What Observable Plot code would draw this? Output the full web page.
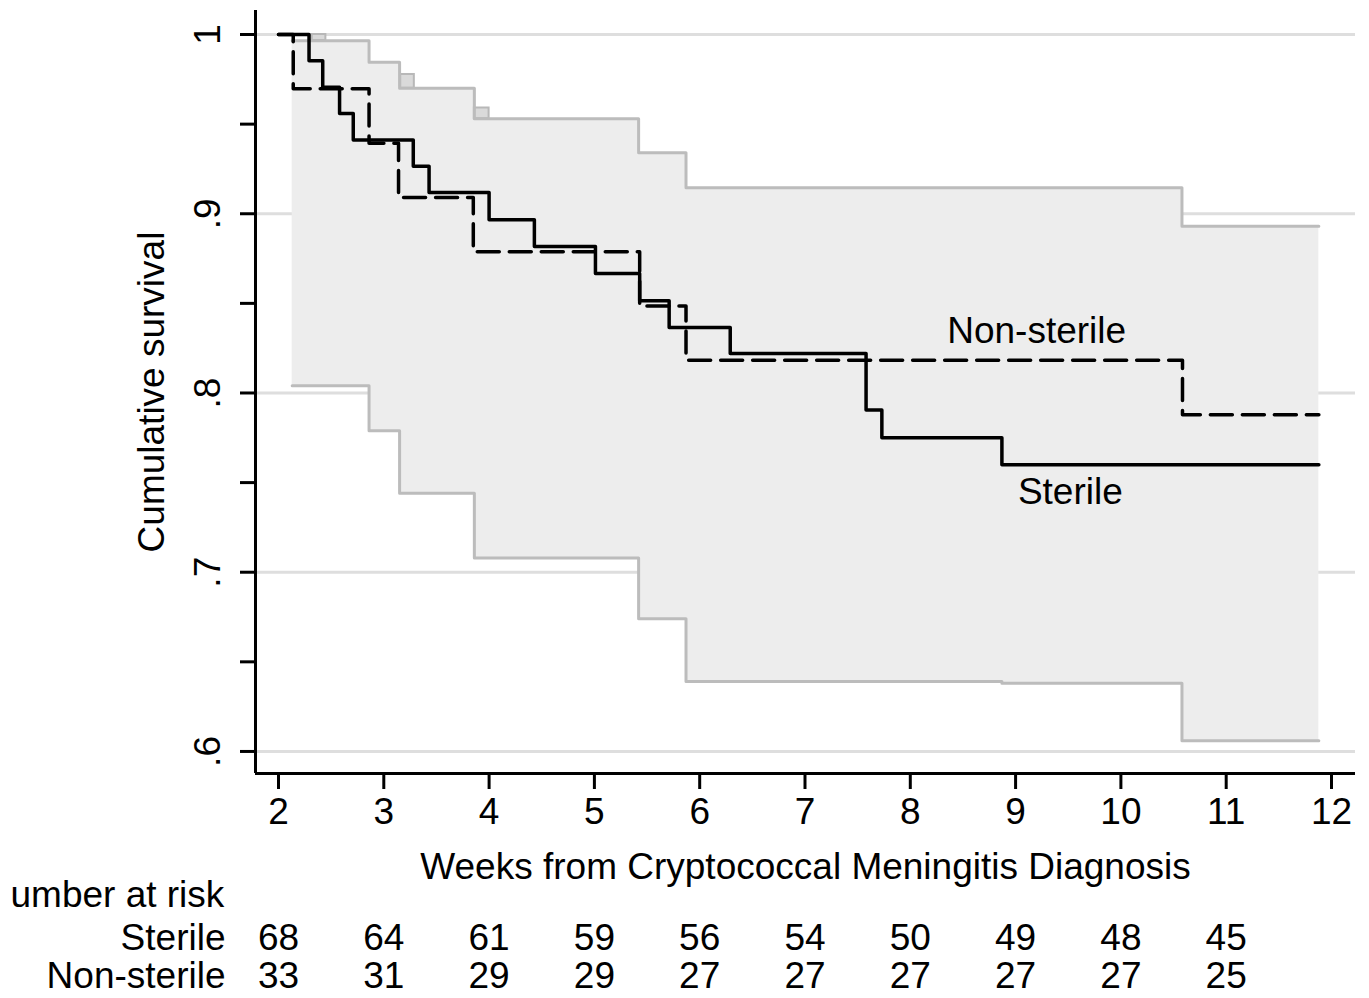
<!DOCTYPE html>
<html>
<head>
<meta charset="utf-8">
<script src="https://cdn.jsdelivr.net/npm/d3@7"></script>
<script src="https://cdn.jsdelivr.net/npm/@observablehq/plot@0.6"></script>
<style>
  html, body { margin: 0; padding: 0; background: #fff; }
  #chart svg { display: block; }
</style>
</head>
<body>
<div id="chart"></div>
<script>
// ---- Data ----
// Kaplan-Meier step curves (time in weeks, cumulative survival)
const sterileTime = [2.0, 2.29, 2.42, 2.58, 2.71, 3.28, 3.43, 4.0, 4.43, 5.01, 5.43, 5.71, 6.29, 7.58, 7.73, 8.87, 11.88];
const sterileSurv = [1.0, 0.9853, 0.9706, 0.9559, 0.9412, 0.9265, 0.9118, 0.8966, 0.8817, 0.8667, 0.8514, 0.8365, 0.822, 0.7905, 0.775, 0.760, 0.760];

const nonSterileTime = [2.0, 2.14, 2.86, 3.14, 3.85, 5.43, 5.87, 10.585, 11.88];
const nonSterileSurv = [1.0, 0.9697, 0.9394, 0.9091, 0.8788, 0.8485, 0.8182, 0.7879, 0.7879];

// Confidence band (step)
const ciTime  = [2.13, 2.86, 3.15, 3.86, 5.42, 5.87, 8.87, 10.58, 11.88];
const ciUpper = [0.9965, 0.9845, 0.970, 0.953, 0.934, 0.9145, 0.9145, 0.893, 0.893];
const ciLower = [0.804, 0.779, 0.744, 0.708, 0.674, 0.639, 0.638, 0.606, 0.606];

// small overlap notches on the upper band edge
const notchX1 = [2.32, 3.16, 3.86];
const notchX2 = [2.45, 3.29, 4.0];
const notchY1 = [0.9966, 0.970, 0.953];
const notchY2 = [1.0, 0.9777, 0.959];

// Axes
const xTicks = [2, 3, 4, 5, 6, 7, 8, 9, 10, 11, 12];
const yMajor = [0.6, 0.7, 0.8, 0.9, 1.0];
const yMajorLabels = [".6", ".7", ".8", ".9", "1"];
const yAllTicks = [0.6, 0.65, 0.7, 0.75, 0.8, 0.85, 0.9, 0.95, 1.0];

// Number at risk
const riskWeeks = [2, 3, 4, 5, 6, 7, 8, 9, 10, 11];
const riskSterile = [68, 64, 61, 59, 56, 54, 50, 49, 48, 45];
const riskNonSterile = [33, 31, 29, 29, 27, 27, 27, 27, 27, 25];

// Curve labels
const curveLabels = ["Non-sterile", "Sterile"];
const curveLabelX = [9.2, 9.52];
const curveLabelY = [0.8346, 0.7447];

// ---- Build tables ----
const sterile = sterileTime.map((t, i) => ({t, s: sterileSurv[i]}));
const nonSterile = nonSterileTime.map((t, i) => ({t, s: nonSterileSurv[i]}));
const band = ciTime.map((t, i) => ({t, lo: ciLower[i], hi: ciUpper[i]}));
const notches = notchX1.map((x1, i) => ({x1, x2: notchX2[i], y1: notchY1[i], y2: notchY2[i]}));
const yLab = yMajor.map((v, i) => ({v, label: yMajorLabels[i]}));
const riskS = riskWeeks.map((w, i) => ({w, n: riskSterile[i]}));
const riskN = riskWeeks.map((w, i) => ({w, n: riskNonSterile[i]}));
const labels = curveLabels.map((l, i) => ({l, x: curveLabelX[i], y: curveLabelY[i]}));

const xMin = 1.7816, xMax = 12.228;
const yMin = 0.5877, yMax = 1.0134;
const FS = 37;

const chart = Plot.plot({
  width: 1369,
  height: 998,
  marginLeft: 255,
  marginRight: 14,
  marginTop: 10,
  marginBottom: 225,
  x: {domain: [xMin, xMax]},
  y: {domain: [yMin, yMax]},
  style: {fontFamily: "'Liberation Sans', Arial, sans-serif", fontSize: FS + "px", color: "#000", background: "#fff"},
  marks: [
    // gridlines
    Plot.ruleY(yMajor, {stroke: "#dedede", strokeWidth: 3}),
    // confidence band
    Plot.areaY(band, {x: "t", y1: "lo", y2: "hi", curve: "step-after", fill: "#ededed"}),
    Plot.rect(notches, {x1: "x1", x2: "x2", y1: "y1", y2: "y2", fill: "#dadada", stroke: "#b8b8b8", strokeWidth: 2}),
    Plot.line(band, {x: "t", y: "hi", curve: "step-after", stroke: "#bcbcbc", strokeWidth: 3}),
    Plot.line(band, {x: "t", y: "lo", curve: "step-after", stroke: "#bcbcbc", strokeWidth: 3}),
    // survival curves
    Plot.line(nonSterile, {x: "t", y: "s", curve: "step-after", stroke: "#000", strokeWidth: 3.5, strokeDasharray: "22,10"}),
    Plot.line(sterile, {x: "t", y: "s", curve: "step-after", stroke: "#000", strokeWidth: 3.5}),
    // curve labels
    Plot.text(labels, {x: "x", y: "y", text: "l", fontSize: FS, fill: "#000"}),
    // axis lines
    Plot.ruleY([yMin], {stroke: "#000", strokeWidth: 3}),
    Plot.ruleX([xMin], {stroke: "#000", strokeWidth: 3}),
    // x axis
    Plot.axisX(xTicks, {tickSize: 16, tickPadding: 8, fontSize: FS, label: null, stroke: "#000", strokeWidth: 3, fill: "#000"}),
    // y axis ticks
    Plot.axisY(yAllTicks, {tickSize: 15, tickFormat: () => "", label: null, stroke: "#000", strokeWidth: 3}),
    Plot.text(yLab, {y: "v", text: "label", frameAnchor: "left", dx: -47, rotate: -90, textAnchor: "middle", lineAnchor: "middle", fontSize: FS, fill: "#000"}),
    // axis titles
    Plot.text(["Weeks from Cryptococcal Meningitis Diagnosis"], {frameAnchor: "bottom", dy: 94, lineAnchor: "middle", fontSize: FS, fill: "#000"}),
    Plot.text(["Cumulative survival"], {frameAnchor: "left", dx: -103, rotate: -90, textAnchor: "middle", lineAnchor: "middle", fontSize: FS, fill: "#000"}),
    // number at risk table
    Plot.text(["umber at risk"], {frameAnchor: "bottom-left", dx: -245, dy: 122, textAnchor: "start", lineAnchor: "middle", fontSize: FS, fill: "#000"}),
    Plot.text(["Sterile"], {frameAnchor: "bottom-left", dx: -30, dy: 165, textAnchor: "end", lineAnchor: "middle", fontSize: FS, fill: "#000"}),
    Plot.text(["Non-sterile"], {frameAnchor: "bottom-left", dx: -30, dy: 203, textAnchor: "end", lineAnchor: "middle", fontSize: FS, fill: "#000"}),
    Plot.text(riskS, {x: "w", text: "n", frameAnchor: "bottom", dy: 165, lineAnchor: "middle", fontSize: FS, fill: "#000"}),
    Plot.text(riskN, {x: "w", text: "n", frameAnchor: "bottom", dy: 203, lineAnchor: "middle", fontSize: FS, fill: "#000"})
  ]
});
document.getElementById("chart").appendChild(chart);
</script>
</body>
</html>
